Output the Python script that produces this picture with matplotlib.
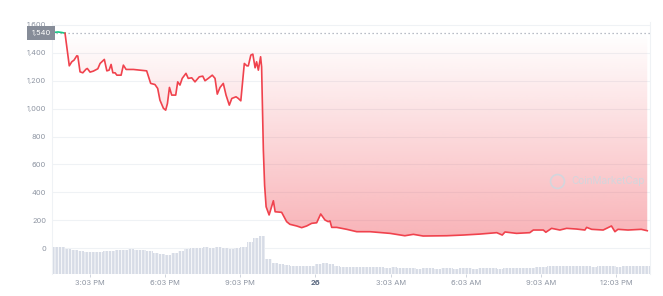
import numpy as np
import matplotlib.pyplot as plt
from matplotlib.patches import Polygon

plt.rcParams['font.family'] = ['Inter', 'DejaVu Sans']
plt.rcParams['hatch.linewidth'] = 0.6

# hours relative to 3:03 PM, price
hours = [-1.52, -1.28, -1.12, -1.00, -0.83, -0.73, -0.64, -0.53, -0.49, -0.40,
         -0.29, -0.16, -0.11, 0.00, 0.13, 0.31, 0.40, 0.57, 0.67, 0.76,
         0.84, 0.91, 1.00, 1.07, 1.24, 1.33, 1.44, 1.73, 2.26, 2.42,
         2.59, 2.70, 2.79, 2.93, 3.02, 3.09, 3.17, 3.26, 3.42, 3.50,
         3.59, 3.68, 3.83, 3.92, 4.06, 4.19, 4.36, 4.50, 4.59, 4.72,
         4.88, 4.99, 5.08, 5.19, 5.32, 5.43, 5.56, 5.66, 5.83, 5.92,
         6.02, 6.16, 6.26, 6.32, 6.42, 6.50, 6.59, 6.65, 6.72, 6.81,
         6.85, 6.92, 6.97, 7.03, 7.15, 7.32, 7.39, 7.65, 7.85, 7.98,
         8.25, 8.45, 8.65, 8.85, 9.05, 9.21, 9.38, 9.51, 9.58, 9.65,
         9.85, 10.25, 10.65, 11.18, 11.98, 12.57, 12.91, 13.30, 14.24, 14.90,
         15.57, 16.24, 16.46, 16.57, 17.03, 17.56, 17.70, 18.10, 18.20, 18.43,
         18.76, 19.03, 19.43, 19.76, 19.83, 20.03, 20.49, 20.82, 20.96, 21.08,
         21.48, 22.01, 22.25]
price = [1545, 1550, 1546, 1541, 1307, 1336, 1348, 1379, 1377, 1264,
         1257, 1283, 1288, 1262, 1269, 1286, 1324, 1353, 1271, 1276,
         1317, 1257, 1257, 1240, 1240, 1312, 1281, 1281, 1271, 1181,
         1173, 1145, 1061, 1002, 989, 1037, 1152, 1097, 1097, 1192,
         1169, 1217, 1253, 1217, 1221, 1192, 1228, 1233, 1200, 1217,
         1240, 1217, 1104, 1152, 1181, 1097, 1025, 1073, 1085, 1073,
         1056, 1324, 1307, 1307, 1384, 1391, 1293, 1336, 1276, 1372,
         1300, 703, 450, 296, 237, 339, 260, 256, 189, 170,
         158, 146, 158, 177, 181, 244, 201, 189, 194, 148,
         148, 134, 117, 117, 105, 88, 98, 86, 88, 93,
         100, 110, 93, 115, 105, 110, 129, 129, 113, 141,
         129, 141, 136, 129, 148, 134, 129, 158, 117, 134,
         129, 134, 124]
open_price = 1540

# volume, 15 minute bins starting 1:33 PM
vol_start = -1.5
vol_step = 0.25
volume = [27, 27, 25, 24, 23, 22, 22, 22, 23, 23, 24, 24, 25, 24, 24, 23,
          21, 20, 19, 21, 23, 25, 26, 26, 27, 26, 27, 26, 25, 26, 27, 32,
          36, 38, 15, 11, 10, 9, 8, 8, 8, 8, 10, 11, 10, 8, 7, 7,
          7, 7, 7, 7, 7, 6, 7, 6, 6, 6, 5, 6, 6, 5, 6, 6,
          5, 6, 6, 5, 6, 6, 6, 5, 6, 6, 6, 6, 6, 7, 7, 8,
          8, 8, 8, 8, 8, 8, 7, 8, 8, 8, 7, 8, 8, 8, 8, 8]

tick_hours = [0, 3, 6, 9, 12, 15, 18, 21]
tick_labels = ['3:03 PM', '6:03 PM', '9:03 PM', '26', '3:03 AM', '6:03 AM', '9:03 AM', '12:03 PM']

RED = '#f0424d'
GREEN = '#16c784'
GREY = '#8f96a3'
GRID = '#eff2f5'

t = np.array(hours)
p = np.array(price)
xmin, xmax = -1.52, 22.36

fig = plt.figure(figsize=(6.63, 2.96), dpi=100)
ax = fig.add_axes([52/663, 22/296, 598/663, 252/296])

# gradient fill between the price and the opening price
grad = np.zeros((256, 1, 4))
grad[..., 0], grad[..., 1], grad[..., 2] = 240/255, 66/255, 77/255
grad[:, 0, 3] = np.linspace(0.42, 0.0, 256)
clip_y = np.minimum(p, open_price)
verts = np.vstack([np.column_stack([t, clip_y]),
                   [[t[-1], open_price], [t[0], open_price]]])
poly = Polygon(verts, closed=True, facecolor='none', edgecolor='none')
ax.add_patch(poly)
im = ax.imshow(grad, extent=[xmin, xmax, 0, open_price], origin='lower',
               aspect='auto', zorder=1, interpolation='bilinear')
im.set_clip_path(poly)

# line, green above the open, red below
first_below = int(np.argmax(p < open_price))
ax.plot(t[:first_below], p[:first_below], color=GREEN, lw=1.2, zorder=4)
ax.plot(t[first_below-1:], p[first_below-1:], color=RED, lw=1.2, zorder=4)

ax.axhline(open_price, color='#a3a9b5', lw=0.9, ls=(0, (1, 2.2)), zorder=2)

ax.set_xlim(xmin, xmax)
ax.set_ylim(-186.5, 1621.5)
ax.set_yticks(range(0, 1601, 200))
ax.set_yticklabels([f'{v:,}' for v in range(0, 1601, 200)])
ax.grid(axis='y', color=GRID, lw=0.8, zorder=0)
ax.set_axisbelow(True)
ax.tick_params(axis='y', length=0, pad=4.3, labelsize=5.4, labelcolor=GREY)
ax.set_xticks(tick_hours)
ax.set_xticklabels(tick_labels)
ax.tick_params(axis='x', length=1.8, width=0.6, color='#c9ced8', pad=2.5,
               labelsize=5.4, labelcolor=GREY)
lbl = ax.get_xticklabels()[3]
lbl.set_fontweight('bold')
lbl.set_color('#58667e')
for s in ['top', 'bottom']:
    ax.spines[s].set_visible(False)
for s in ['left', 'right']:
    ax.spines[s].set_color(GRID)
    ax.spines[s].set_linewidth(0.8)

# price tag of the open
ax.text(-0.002, open_price, '1,540', transform=ax.get_yaxis_transform(),
        ha='right', va='center', fontsize=5.4, color='white', zorder=6,
        bbox=dict(boxstyle='square,pad=0.55', fc='#868c98', ec='none'))

# watermark
ax.plot([0.845], [0.37], 'o', ms=10, mfc='none', mec='#d3d6dd', mew=1.2,
        transform=ax.transAxes, zorder=3)
ax.text(0.868, 0.37, 'CoinMarketCap', transform=ax.transAxes, fontsize=7.2,
        color='#d3d6dd', va='center', ha='left', zorder=3)

# volume bars on a twin axis
vx = vol_start + vol_step * np.arange(len(volume))
axv = ax.twinx()
axv.bar(vx, volume, width=vol_step, align='edge', color='#d7dce6',
        edgecolor='white', linewidth=0, hatch='|||||', zorder=2)
axv.set_ylim(0, max(volume) / 0.15)
axv.set_xlim(xmin, xmax)
axv.axis('off')

fig.savefig('out.png', dpi=100)
